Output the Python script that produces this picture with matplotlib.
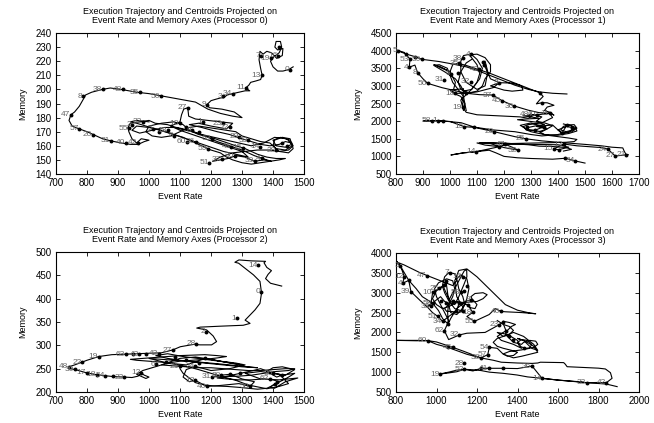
import matplotlib
matplotlib.use("Agg")
import matplotlib.pyplot as plt

plt.rcParams['font.family'] = ['Liberation Sans', 'DejaVu Sans']

# ---- processor 0 ----
traj0_x = [1465, 1450, 1432, 1415, 1400, 1392, 1402, 1420, 1428, 1424, 1410, 1406, 1415, 1432, 1430, 1412,
           1395, 1380, 1368, 1358, 1355, 1360, 1365, 1360, 1345, 1328, 1322, 1312, 1325, 1310, 1290, 1270,
           1252, 1240, 1232, 1215, 1200, 1186, 1195, 1235, 1275, 1300, 1270, 1230, 1190, 1150, 1100, 1050,
           1000, 960, 910, 875, 850, 815, 795, 788, 775, 760, 748, 742, 752, 775, 800, 820, 850, 877,
           910, 940, 965, 985, 1000, 975, 960, 945, 935, 932, 940, 970, 1000, 1020, 1060, 1100,
           1140, 1180, 1220, 1260, 1300, 1340, 1380, 1395, 1370, 1340, 1310, 1280, 1255, 1230, 1205, 1230,
           1270, 1310, 1350, 1390, 1420, 1450, 1465, 1455, 1425, 1400, 1410, 1440, 1460, 1445, 1405, 1370,
           1330, 1290, 1250, 1210, 1170, 1130, 1090, 1050, 1010, 970, 945, 960, 1000, 1040, 1080, 1120,
           1160, 1200, 1240, 1280, 1320, 1300, 1260, 1220, 1180, 1140, 1100, 1070, 1100, 1105, 1112, 1125,
           1128, 1150, 1190, 1230, 1270, 1250, 1200, 1160, 1130, 1170, 1220, 1260, 1300, 1330, 1360, 1390,
           1420, 1440, 1460]
traj0_y = [216, 214, 213, 213, 216, 220, 223, 226, 230, 234, 234, 230, 228, 229, 224, 222,
           226, 227, 225, 227, 221, 215, 210, 207, 206, 205, 203, 201, 199, 199, 198, 197,
           196, 194, 194, 193, 192, 189, 187, 186, 184, 180, 181, 183, 186, 191, 193, 195,
           197, 198, 200, 201, 200, 198, 196, 193, 188, 184, 182, 178, 174, 172, 170, 168, 165, 163.5,
           162, 161, 161, 163, 164, 165, 162, 165, 170, 173, 176, 177, 178, 176, 175, 172,
           170, 167, 163, 160, 157, 153, 150, 149, 150, 149, 152, 153, 151, 150, 149, 152,
           155, 156, 157, 157, 156, 157, 160, 164, 166, 164, 160, 159, 161, 165, 166, 162,
           160, 162, 164, 166, 168, 171, 173, 173, 171, 169, 171, 174, 173, 171, 168, 165,
           162, 159, 156, 154, 152, 156, 159, 162, 165, 168, 171, 174, 177, 182, 186, 187,
           181, 179, 178, 177, 176, 172, 174, 176, 175, 173, 170, 168, 165, 163, 161, 160,
           161, 163, 162]
loop0_x = [1460, 1465, 1450, 1420, 1400, 1405, 1430, 1455, 1462, 1440, 1410, 1390, 1360, 1330, 1300, 1280,
           1250, 1220, 1190, 1160, 1130, 1100, 1070, 1040, 1010, 990, 1000, 1040, 1080, 1110, 1130, 1160,
           1200, 1240, 1280, 1310, 1330, 1350, 1380, 1410, 1440, 1420, 1390, 1360, 1330, 1300, 1270, 1250,
           1230, 1200, 1170, 1140, 1110, 1080, 1050, 1020, 990, 960, 940, 960, 1000]
loop0_y = [162, 158, 155, 156, 160, 164, 166, 165, 160, 157, 158, 162, 163, 165, 167, 170,
           171, 172, 173, 174, 173, 170, 167, 166, 167, 170, 174, 176, 177, 175, 171, 168,
           166, 163, 160, 158, 156, 154, 152, 151, 151, 150, 149, 148, 147, 148, 150, 152,
           155, 157, 160, 163, 166, 168, 170, 172, 174, 176, 177, 178, 177]
cent0_x = [1455, 1363, 1392, 1417, 1420, 1360, 1313, 1270, 1238, 1186, 1125, 850, 915, 970, 1039, 788,
           748, 775, 818, 877, 925, 965, 935, 945, 980, 1012, 1031, 1060, 1080, 1100, 1120, 1140,
           1160, 1175, 1238, 1261, 1291, 1320, 1358, 1411, 1428, 1445, 1202, 1191, 1266, 1303, 1277, 1234,
           1195, 1342, 1363, 1121, 1150]
cent0_y = [214, 210, 222, 224, 230, 224, 201, 197, 195, 189, 187, 200, 200, 198, 195, 195,
           182, 172, 168, 163.5, 162, 162, 172.5, 175, 177, 172, 170, 171, 167, 176, 173, 171,
           170, 177, 176, 173, 166.5, 164, 159.5, 157, 162, 160, 165, 158, 159.5, 158.5, 153, 150.5,
           148, 149.5, 151, 163, 163]
cent0_lab = ['0', '13', '19', '16', '', '7', '11', '34', '3', '9', '27', '38', '48', '35', '50', '8',
             '47', '57', '20', '31', '40', '42', '55', '2', '32', '5', '', '18', '6', '10', '', '8',
             '', '1', '23', '22', '29', '33', '14', '28', '', '', '63', '59', '41', '15', '30', '37',
             '51', '39', '4', '60', '36']

# ---- processor 1 ----
traj1_x = [1433, 1380, 1330, 1290, 1240, 1190, 1140, 1100, 1060, 1010, 960, 896, 870, 837, 806, 800,
           830, 852, 849, 870, 880, 900, 917, 970, 1020, 1060, 1110, 1158, 1193, 1238, 1290, 1330,
           1369, 1385, 1370, 1350, 1360, 1385, 1360, 1341, 1320, 1332, 1345, 1332, 1300, 1250, 1200, 1150,
           1100, 1060, 1030, 1010, 1000, 960, 940, 1000, 1020, 1010, 1040, 1055, 1050, 1040, 1080, 1110,
           1120, 1100, 1078, 1050, 1040, 1040, 1060, 1100, 1130, 1140, 1130, 1121, 1127, 1150, 1183, 1230,
           1265, 1270, 1230, 1200, 1170, 1150, 1183, 1160, 1100, 1059, 1020, 1000, 1050, 1047, 1060, 1100,
           1180, 1260, 1290, 1310, 1297, 1322, 1369, 1380, 1340, 1290, 1270, 1285, 1316, 1347, 1300, 1260,
           1290, 1340, 1360, 1320, 1380, 1414, 1433, 1460, 1470, 1452, 1420, 1400, 1430, 1465, 1440, 1400,
           1340, 1300, 1240, 1160, 1090, 1041, 980, 954, 900, 933, 1000, 1053, 1090, 1164, 1240, 1280,
           1340, 1400, 1450, 1500, 1560, 1600, 1640, 1645, 1653, 1660, 1612, 1584, 1560, 1470, 1421, 1384,
           1402, 1440, 1400, 1300, 1205, 1183, 1130, 1100, 1150, 1200, 1250, 1240, 1205, 1183, 1096, 1050,
           1004, 1050, 1096, 1145, 1170, 1200, 1250, 1300, 1380, 1427, 1464, 1500]
traj1_y = [2770, 2790, 2830, 2900, 3020, 3170, 3320, 3440, 3540, 3620, 3690, 3753, 3830, 3904, 4000, 4020,
           3950, 3760, 3530, 3590, 3375, 3200, 3072, 2950, 2860, 2790, 2750, 2741, 2580, 2429, 2310, 2240,
           2222, 2170, 2250, 2300, 2400, 2450, 2520, 2523, 2490, 2600, 2700, 2807, 2900, 3050, 3200, 3350,
           3480, 3580, 3640, 3600, 3400, 3560, 3600, 3400, 3100, 2800, 2700, 2500, 2300, 2600, 2900, 3200,
           3500, 3750, 3904, 3860, 3700, 3400, 3100, 2900, 3000, 3400, 3700, 3686, 3590, 3200, 3090, 3080,
           3000, 2880, 2850, 2880, 2950, 3000, 3090, 2950, 2830, 2789, 2789, 2880, 2920, 2392, 2250, 2180,
           2150, 2120, 2080, 2175, 2175, 2175, 2222, 2100, 1950, 1900, 1840, 1745, 1745, 1840, 1950, 1880,
           1750, 1700, 1780, 1850, 1890, 1650, 1890, 1900, 1800, 1700, 1650, 1750, 1850, 1800, 1700, 1620,
           1580, 1620, 1700, 1750, 1830, 1955, 2000, 2012, 2000, 2012, 1990, 1842, 1823, 1700, 1560, 1500,
           1440, 1400, 1370, 1340, 1300, 1260, 1240, 1150, 1040, 1050, 1011, 1209, 1250, 1300, 1351, 1210,
           1190, 1260, 1330, 1340, 1340, 1275, 1320, 1380, 1360, 1250, 1180, 1230, 1340, 1275, 1133, 1100,
           1040, 1100, 1133, 1175, 1100, 1000, 960, 940, 920, 946, 870, 810]
loop1a_x = [1060, 1055, 1050, 1030, 1010, 1000, 990, 960, 940, 980, 1020, 1040, 1050, 1080, 1100, 1110,
            1100, 1080, 1070, 1100, 1130, 1150, 1150, 1130, 1120, 1100, 1070, 1040, 1030, 1040, 1060, 1080]
loop1a_y = [2300, 2500, 2700, 2900, 3100, 3300, 3500, 3600, 3580, 3400, 3200, 3000, 2850, 2900, 3100, 3350,
            3600, 3800, 3880, 3900, 3800, 3600, 3400, 3200, 3000, 2850, 2800, 2900, 3100, 3400, 3650, 3750]
loop1b_x = [1420, 1450, 1430, 1380, 1330, 1290, 1250, 1200, 1150, 1110, 1150, 1200, 1260, 1320, 1380, 1430,
            1460, 1470, 1440, 1400, 1360, 1330, 1300, 1280, 1290, 1320, 1350, 1330, 1290, 1250, 1280, 1330,
            1300, 1270, 1310, 1340, 1320, 1350, 1380, 1360, 1330, 1350, 1400, 1440, 1470, 1465, 1440, 1420,
            1410, 1430, 1460, 1450, 1420]
loop1b_y = [1150, 1200, 1250, 1280, 1290, 1330, 1350, 1380, 1390, 1390, 1370, 1360, 1370, 1380, 1390, 1400,
            1420, 1480, 1520, 1560, 1600, 1650, 1700, 1760, 1820, 1870, 1900, 1960, 2000, 2040, 2060, 2080,
            2120, 2150, 2180, 2120, 2000, 1950, 1870, 1780, 1700, 1620, 1600, 1650, 1720, 1820, 1900, 1850,
            1750, 1700, 1760, 1860, 1920]
cent1_x = [806, 837, 852, 896, 870, 849, 880, 917, 979, 1047, 1035, 1078, 1109, 1004, 1028, 1078,
           1121, 1127, 1183, 1020, 1059, 1047, 1158, 1193, 1238, 1332, 1341, 1369, 1322, 1297, 1285, 1316,
           1347, 1433, 1452, 1414, 1421, 1384, 1402, 1427, 1464, 1584, 1612, 1653, 933, 954, 973, 1053,
           1090, 1164, 1280, 1096, 1183, 1205, 1250]
cent1_y = [4000, 3904, 3753, 3753, 3830, 3526, 3375, 3072, 3167, 3781, 3643, 3904, 3470, 3337, 3375, 3119,
           3686, 3590, 3090, 2789, 2789, 2392, 2741, 2580, 2429, 2807, 2523, 2222, 2175, 2175, 1840, 1745,
           1840, 1890, 1800, 1650, 1351, 1210, 1190, 946, 870, 1209, 1011, 1040, 2012, 2012, 2012, 1842,
           1823, 1700, 1500, 1133, 1275, 1340, 1180]
cent1_lab = ['5', '', '53', '59', '', '4', '8', '56', '31', '38', '35', '4', '42', '6', '', '32',
             '', '', '3', '18', '', '19', '37', '45', '36', '', '', '11', '40', '48', '', '',
             '', '', '', '', '12', '15', '', '', '34', '24', '27', '21', '58', '1', '', '15',
             '', '20', '25', '14', '', '47', '52']

# ---- processor 2 ----
traj2_x = [1428, 1392, 1376, 1384, 1395, 1380, 1371, 1376, 1330, 1290, 1277, 1289, 1337, 1358, 1363, 1358,
           1342, 1326, 1310, 1326, 1304, 1229, 1165, 1154, 1186, 1207, 1218, 1202, 1165, 1144, 1101, 1076,
           1040, 1000, 960, 926, 880, 838, 800, 784, 760, 741, 745, 762, 799, 831, 859, 885, 920, 945,
           965, 974, 985, 1000, 990, 960, 980, 1040, 1100, 1150, 1200, 1260, 1300, 1250, 1180, 1110, 1060,
           1022, 1060, 1120, 1180, 1240, 1300, 1350, 1290, 1230, 1180, 1130, 1080, 1040, 1000, 1060, 1120,
           1181, 1230, 1280, 1310, 1260, 1200, 1149, 1120, 1110, 1130, 1149, 1186, 1230, 1290, 1326, 1340,
           1300, 1262, 1233, 1203, 1240, 1294, 1330, 1360, 1401, 1440, 1470, 1430, 1400, 1380, 1412, 1428,
           1470, 1440, 1400, 1390, 1405, 1440, 1480, 1420, 1360, 1310, 1360, 1420, 1450, 1420, 1380, 1320]
traj2_y = [427, 433, 443, 452, 460, 467, 477, 480, 481, 483, 478, 476, 451, 437, 412, 390,
           376, 365, 354, 347, 343, 341, 339, 337, 333, 320, 308, 301, 301, 302, 297, 290,
           284, 283, 282, 281, 280, 276, 268, 264, 258, 254, 250, 248, 241, 237, 235, 233, 232, 231,
           234, 241, 236, 232, 229, 238, 246, 258, 272, 275, 270, 262, 258, 264, 270, 276, 282,
           278, 272, 266, 262, 258, 254, 252, 256, 260, 263, 266, 268, 270, 272, 262, 258,
           272, 266, 262, 258, 250, 246, 255, 248, 232, 222, 225, 212, 214, 218, 212, 222,
           228, 238, 236, 233, 232, 240, 245, 250, 240, 236, 248, 254, 252, 244, 232, 236,
           240, 228, 215, 210, 208, 222, 230, 226, 228, 240, 244, 238, 218, 212, 207, 215]
loop2_x = [1320, 1280, 1240, 1200, 1160, 1120, 1080, 1040, 1000, 960, 940, 980, 1020, 1060, 1100, 1140,
           1180, 1220, 1250, 1220, 1180, 1140, 1100, 1060, 1040, 1080, 1120, 1160, 1200, 1240, 1280, 1320,
           1360, 1400, 1440, 1470, 1450, 1410, 1370, 1330, 1290, 1250, 1220, 1250, 1290, 1330, 1370, 1400,
           1420, 1400, 1380, 1350, 1320, 1290, 1250, 1210, 1180, 1150, 1130, 1110, 1100]
loop2_y = [215, 225, 232, 240, 248, 255, 260, 264, 266, 268, 270, 272, 274, 276, 278, 279,
           280, 278, 276, 273, 270, 268, 266, 262, 258, 256, 254, 252, 252, 250, 248, 246,
           246, 248, 250, 250, 246, 244, 240, 236, 234, 233, 230, 228, 226, 226, 228, 226,
           222, 214, 208, 206, 208, 210, 212, 213, 215, 220, 230, 240, 250]
cent2_x = [1361, 1283, 1184, 1152, 1353, 741, 762, 784, 838, 799, 831, 859, 885, 920, 926, 947,
           969, 990, 1033, 974, 1076, 1055, 1022, 1181, 1149, 1203, 1233, 1262, 1294, 1186, 1149, 1326,
           1401, 1428, 1390, 1405, 1412, 1120, 1085, 1100, 1160]
cent2_y = [415, 358, 329, 303, 472, 254, 248.6, 264, 275.7, 241.4, 237, 235, 233.4, 232, 281.4, 282,
           281, 282, 282, 241, 290, 264, 260, 272, 255, 233, 236, 238, 240, 212, 225, 212,
           240, 236, 228, 218, 222, 268, 276, 255, 262]
cent2_lab = ['0', '1', '2', '28', '14', '48', '30', '22', '19', '17', '18', '54', '', '23', '63', '',
             '43', '', '42', '12', '27', '', '6', '', '24', '31', '38', '', '', '40', '13', '50',
             '30', '', '62', '', '', '', '', '21', '']

# ---- processor 3 ----
traj3_x = [800, 840, 880, 920, 960, 1000, 1040, 1080, 1100, 1090, 1060, 1040, 1030, 1047, 1067, 1090,
           1110, 1135, 1150, 1149, 1137, 1121, 1100, 1080, 1060, 1047, 1039, 1014, 981, 973, 960, 990,
           1020, 1040, 1060, 1055, 1058, 1070, 1100, 1150, 1180, 1200, 1190, 1170, 1150, 1130, 1100, 1080,
           1060, 1040, 1050, 1070, 1110, 1130, 1129, 1100, 1090, 1110, 1150, 1200, 1250, 1300, 1340, 1400,
           1460, 1490, 1420, 1340, 1318, 1290, 1260, 1187, 1150, 1179, 1154, 1113, 1096, 1060, 1030, 1006,
           980, 955, 920, 874, 863, 833, 841, 822, 805, 830, 863, 900, 930, 980, 1010, 1030, 1055, 1060,
           1039, 1060, 1113, 1150, 1240, 1310, 1327, 1343, 1300, 1320, 1380, 1420, 1400, 1350, 1300, 1330,
           1380, 1430, 1480, 1500, 1470, 1430, 1400, 1440, 1480, 1500, 1460, 1420, 1380, 1330, 1300, 1261,
           1253, 1220, 1150, 1080, 1055, 1000, 956, 900, 800, 900, 956, 1000, 1080, 1137, 1220, 1280,
           1320, 1400, 1472, 1500, 1513, 1628, 1636, 1645, 1800, 1834, 1859, 1867, 1839, 1800, 1743, 1700,
           1600, 1521, 1450, 1398, 1330, 1261, 1220, 1180, 1137, 1100, 1060, 1017, 1060, 1100, 1137, 1180,
           1220, 1261, 1327, 1400, 1472, 1521, 1600, 1743, 1839, 1892]
traj3_y = [3780, 3700, 3600, 3500, 3421, 3340, 3260, 3180, 3300, 3480, 3504, 3400, 3200, 3000, 2800, 2700,
           2900, 3200, 3400, 3580, 3550, 3403, 3200, 3000, 2800, 3284, 3200, 3116, 3007, 2740, 2656, 2780,
           2900, 2780, 2740, 2500, 2220, 2350, 2600, 2800, 2823, 2700, 2600, 2620, 2698, 2750, 2780, 2740,
           2700, 2600, 2530, 2530, 2505, 2530, 2650, 2900, 3300, 3560, 3600, 3400, 3150, 2900, 2700, 2560,
           2490, 2470, 2500, 2520, 2530, 2600, 2450, 2278, 2400, 2505, 2698, 2740, 2530, 2400, 2278, 2405,
           2500, 2640, 2800, 3026, 3310, 3240, 3403, 3680, 3780, 3600, 3310, 3100, 2900, 2740, 2550, 2350, 2220, 2280,
           2044, 1820, 1937, 1980, 2000, 2195, 2254, 2044, 1900, 1800, 1700, 1600, 1800, 1950, 2000, 1900,
           2000, 1900, 1700, 1550, 1600, 1800, 1850, 1780, 1650, 1500, 1450, 1400, 1360, 1450, 1600, 1625,
           1441, 1357, 1450, 1580, 1625, 1700, 1795, 1790, 1800, 1800, 1795, 1760, 1625, 1520, 1357, 1300,
           1250, 1230, 1220, 1230, 1250, 1240, 1200, 1137, 1100, 1080, 986, 845, 734, 740, 734, 760,
           800, 845, 880, 928, 970, 1000, 1040, 1060, 1071, 1010, 980, 953, 1000, 1050, 1071, 1030,
           1097, 1097, 1097, 1090, 1154, 845, 800, 734, 700, 635]
loop3a_x = [1060, 1040, 1020, 1000, 990, 1010, 1050, 1080, 1090, 1080, 1060, 1070, 1100, 1130, 1150, 1160,
            1150, 1120, 1100, 1110, 1130, 1140, 1120, 1090, 1060, 1040, 1030, 1000, 980, 1000, 1030, 1060,
            1100, 1150, 1200, 1230, 1250, 1230, 1190, 1170, 1180]
loop3a_y = [2300, 2500, 2700, 2900, 3100, 3250, 3350, 3300, 3100, 2900, 2700, 2500, 2450, 2600, 2850, 3100,
            3350, 3450, 3350, 3100, 2900, 2700, 2550, 2600, 2800, 3000, 3150, 3050, 2850, 2700, 2600, 2650,
            2750, 2760, 2780, 2850, 2950, 3000, 2980, 2900, 2800]
loop3b_x = [1300, 1330, 1360, 1380, 1360, 1330, 1300, 1280, 1300, 1330, 1370, 1400, 1380, 1350, 1330, 1360,
            1420, 1460, 1470, 1450, 1420, 1400, 1410, 1440, 1480, 1500, 1490, 1460, 1430, 1420, 1380, 1360,
            1340, 1350, 1370, 1390, 1360, 1330]
loop3b_y = [2300, 2200, 2150, 2050, 1950, 1900, 1850, 1750, 1650, 1600, 1550, 1500, 1420, 1400, 1460, 1520,
            1560, 1600, 1700, 1800, 1820, 1750, 1650, 1600, 1620, 1700, 1780, 1800, 1750, 1700, 1750, 1850,
            1950, 2050, 2150, 2200, 2250, 2280]
cent3_x = [822, 841, 833, 863, 874, 951, 1067, 1129, 981, 1014, 1047, 1039, 1121, 1137, 1149, 981,
           973, 1022, 1047, 1080, 1113, 1096, 1129, 1154, 1170, 1179, 1187, 1006, 1030, 1055, 1039, 1113,
           1318, 1310, 1327, 1343, 956, 1080, 1055, 1261, 1253, 1220, 1137, 1137, 1220, 1261, 1327, 1017,
           1472, 1521, 1743, 1839, 1430, 1380, 1360]
cent3_y = [3680, 3403, 3240, 3310, 3026, 3421, 3504, 3403, 3007, 3116, 3284, 3200, 3007, 3032, 3158, 2740,
           2656, 2780, 2740, 2780, 2740, 2530, 2530, 2698, 2823, 2505, 2278, 2405, 2278, 2220, 2044, 1937,
           2530, 2195, 2254, 2044, 1795, 1625, 1625, 1625, 1441, 1357, 1222, 1071, 1097, 1097, 1097, 953,
           1154, 845, 734, 734, 1600, 1800, 1900]
cent3_lab = ['3', '12', '4', '', '39', '47', '7', '16', '10', '25', '', '', '58', '', '', '58',
             '33', '', '', '', '', '', '', '', '9', '18', '55', '51', '34', '', '62', '32',
             '46', '23', '', '', '60', '45', '', '54', '57', '38', '28', '52', '', '41', '', '19',
             '36', '14', '33', '42', '', '', '']

panels = [
    ([(traj0_x, traj0_y), (loop0_x, loop0_y)], cent0_x, cent0_y, cent0_lab,
     (700, 1500), (140, 240), range(700, 1501, 100), range(140, 241, 10), [56, 33, 304, 174]),
    ([(traj1_x, traj1_y), (loop1a_x, loop1a_y), (loop1b_x, loop1b_y)], cent1_x, cent1_y, cent1_lab,
     (800, 1700), (500, 4500), range(800, 1701, 100), range(500, 4501, 500), [396, 33, 639, 174]),
    ([(traj2_x, traj2_y), (loop2_x, loop2_y)], cent2_x, cent2_y, cent2_lab,
     (700, 1500), (200, 500), range(700, 1501, 100), range(200, 501, 50), [56, 252, 304, 392]),
    ([(traj3_x, traj3_y), (loop3a_x, loop3a_y), (loop3b_x, loop3b_y)], cent3_x, cent3_y, cent3_lab,
     (800, 2000), (500, 4000), range(800, 2001, 200), range(500, 4001, 500), [396, 253, 639, 392]),
]

W, H = 654, 423
fig = plt.figure(figsize=(W / 100, H / 100), dpi=100)

for i, (strokes, cx, cy, lab, xl, yl, xt, yt, box) in enumerate(panels):
    l, t, r, b = box
    ax = fig.add_axes([l / W, 1 - b / H, (r - l) / W, (b - t) / H])
    for sx, sy in strokes:
        ax.plot(sx, sy, color='black', lw=0.8)
    ax.plot(cx, cy, 'o', color='black', ms=2.8, mew=0)
    for x, y, s in zip(cx, cy, lab):
        if s:
            ax.annotate(s, (x, y), xytext=(-0.5, 0), textcoords='offset points',
                        ha='right', va='center', fontsize=6, color='#666666')
    ax.set_xlim(xl)
    ax.set_ylim(yl)
    ax.set_xticks(list(xt))
    ax.set_yticks(list(yt))
    ax.tick_params(direction='in', top=True, right=True, labelsize=7, length=3, width=0.6, pad=3)
    for sp in ax.spines.values():
        sp.set_linewidth(0.8)
    ax.set_xlabel('Event Rate', fontsize=6.5, labelpad=3)
    ax.set_ylabel('Memory', fontsize=6.5, labelpad=6)
    ax.set_title('Execution Trajectory and Centroids Projected on\n'
                 'Event Rate and Memory Axes (Processor %d)' % i, fontsize=6.5, pad=7, linespacing=1.0)

fig.savefig('out.png', dpi=100)
